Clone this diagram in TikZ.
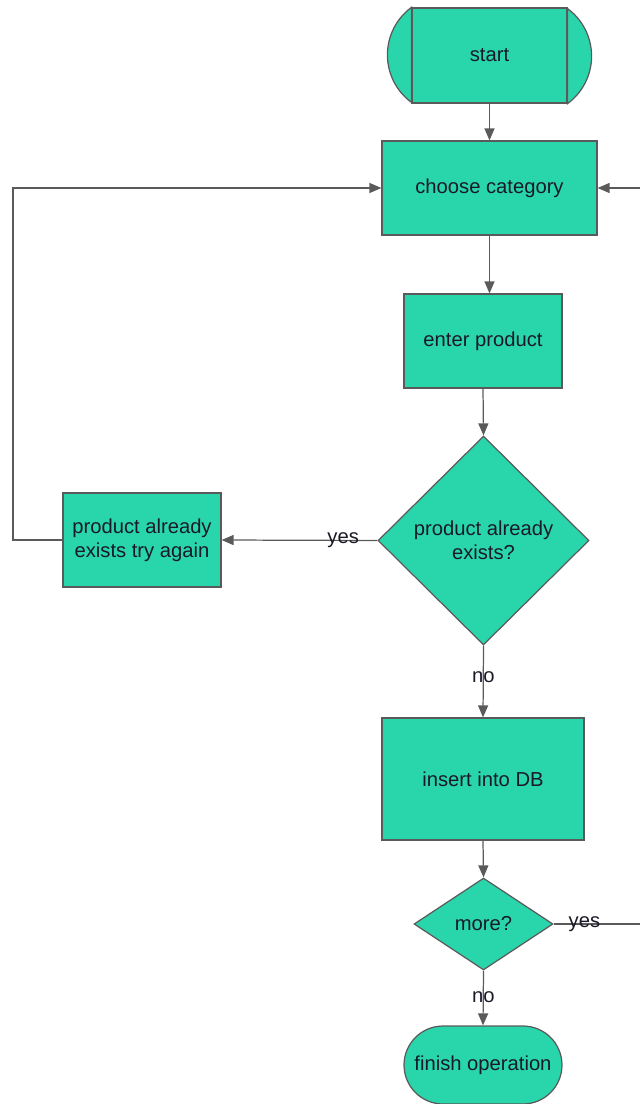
\documentclass[tikz,border=0pt]{standalone}
\usepackage{fontspec}
\setmainfont{Liberation Sans}
\usepackage{xcolor}
\usetikzlibrary{shapes.geometric,arrows.meta}
\definecolor{boxfill}{RGB}{41,214,172}
\definecolor{edgegray}{RGB}{90,90,90}
\definecolor{textdark}{RGB}{25,25,40}

\begin{document}
\begin{tikzpicture}[x=0.02cm, y=0.02cm,
  every node/.style={font=\fontsize{11.5}{13.5}\selectfont, text=textdark},
  procbox/.style={draw=edgegray, line width=0.7pt, fill=boxfill, align=center, inner sep=2pt},
  decbox/.style={procbox, diamond, inner sep=0pt},
  flow/.style={draw=edgegray, line width=0.7pt, -{Triangle[length=0.24cm, width=0.2cm]}},
  plain/.style={draw=edgegray, line width=0.7pt},
  lbl/.style={inner sep=1pt}]
  \useasboundingbox (0,0) rectangle (639,-1104);

  % boxes
  \node[procbox, minimum width=3.1cm, minimum height=1.9cm] (start) at (489.5,-55.5) {start};
  \fill[boxfill, draw=edgegray, line width=0.7pt] (start.north west) arc[start angle=126.4, end angle=233.6, radius=59] -- cycle;
  \fill[boxfill, draw=edgegray, line width=0.7pt] (start.south east) arc[start angle=-53.6, end angle=53.6, radius=59] -- cycle;
  \node[procbox, minimum width=4.3cm, minimum height=1.88cm] (choose) at (489.5,-188) {choose category};
  \node[procbox, minimum width=3.16cm, minimum height=1.88cm] (enter) at (483,-341) {enter product};
  \node[decbox, minimum width=4.22cm, minimum height=4.18cm] (exists) at (483.5,-540.5) {product already\\exists?};
  \node[procbox, minimum width=3.16cm, minimum height=1.88cm] (try) at (142,-540) {product already\\exists try again};
  \node[procbox, minimum width=4.04cm, minimum height=2.44cm] (insert) at (483,-779) {insert into DB};
  \node[decbox, minimum width=2.78cm, minimum height=1.84cm] (more) at (483.5,-924) {more?};
  \node[procbox, minimum width=3.16cm, minimum height=1.56cm, rounded corners=0.78cm] (finish) at (483,-1065) {finish operation};

  % connectors
  \coordinate (leftedge) at (13,-540);
  \coordinate (rightedge) at (660,-924);
  \draw[flow] (start.south) -- (choose.north);
  \draw[flow] (choose.south) -- (choose.south |- enter.north);
  \draw[flow] (enter.south) -- (exists.north);
  \draw[flow] (exists.west) -- node[lbl, pos=0.22] {yes} (try.east);
  \draw[flow] (try.west) -- (leftedge) |- (choose.west);
  \draw[flow] (exists.south) -- node[lbl, pos=0.44] {no} (insert.north);
  \draw[flow] (insert.south) -- (more.north);
  \draw[flow] (more.east) -- node[lbl, pos=0.29] {yes} (rightedge) |- (choose.east);
  \draw[flow] (more.south) -- node[lbl, pos=0.49] {no} (finish.north);
\end{tikzpicture}
\end{document}
